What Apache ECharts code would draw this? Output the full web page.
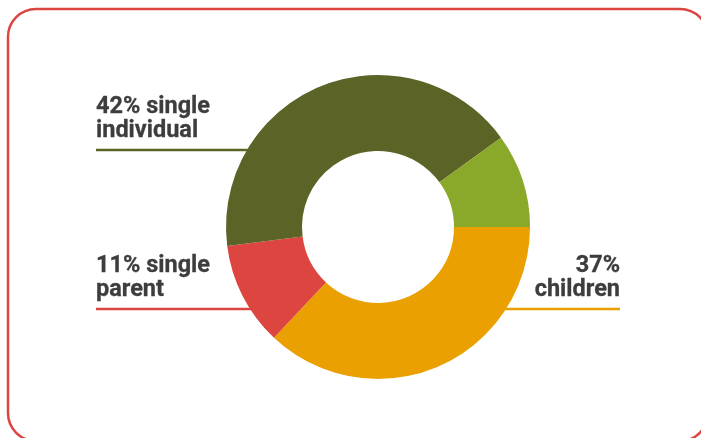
<!DOCTYPE html>
<html>
<head>
<meta charset="utf-8">
<script src="https://cdn.jsdelivr.net/npm/echarts@6/dist/echarts.min.js"></script>
<style>
  html, body { margin: 0; padding: 0; background: #ffffff; }
  #chart { width: 701px; height: 438px; }
</style>
</head>
<body>
<div id="chart"></div>
<script>
// Household composition shares (percent), drawn clockwise from 3 o'clock
const categories = ['children', 'single parent', 'single individual', 'other'];
const shares = [37, 11, 42, 10];
const labelTexts = ['37%\nchildren', '11% single\nparent', '42% single\nindividual', ''];
const sliceColors = ['#e9a000', '#dd4540', '#5b6426', '#8aa82a'];

// Pie geometry (pixels)
const CX = 378, CY = 227, R_IN = 76, R_OUT = 152;

// Where each label sits: its underline height and the text's outer edge
const labelSpots = [
  { lineY: 309, textX: 620, side: 'right' },
  { lineY: 309, textX: 96, side: 'left' },
  { lineY: 150, textX: 96, side: 'left' },
  null
];

function edgeX(y, side) {
  const dy = y - CY;
  const dx = Math.sqrt(Math.max(0, R_OUT * R_OUT - dy * dy));
  return side === 'left' ? CX - dx + 1 : CX + dx - 1;
}

const chart = echarts.init(document.getElementById('chart'), null, { renderer: 'canvas' });

const data = categories.map((name, i) => ({
  name: name,
  value: shares[i],
  itemStyle: { color: sliceColors[i] },
  label: { show: labelTexts[i] !== '', formatter: labelTexts[i] },
  labelLine: { show: labelTexts[i] !== '', lineStyle: { color: sliceColors[i], width: 2.5 } }
}));

chart.setOption({
  animation: false,
  backgroundColor: '#ffffff',
  graphic: [{
    type: 'rect',
    shape: { x: 8, y: 9, width: 700, height: 432, r: 28 },
    style: { fill: 'none', stroke: '#dd4540', lineWidth: 2.5 },
    silent: true
  }],
  series: [{
    type: 'pie',
    center: [CX, CY],
    radius: [R_IN, R_OUT],
    startAngle: 0,
    clockwise: true,
    avoidLabelOverlap: false,
    itemStyle: { borderWidth: 0 },
    label: {
      position: 'outside',
      fontFamily: 'Roboto',
      fontWeight: 'bold',
      fontSize: 23.5,
      lineHeight: 24,
      color: '#3d3d3d',
      textBorderColor: '#3d3d3d',
      textBorderWidth: 0.3
    },
    labelLine: { length: 10, length2: 10 },
    emphasis: { disabled: true },
    labelLayout: function (params) {
      const spot = labelSpots[params.dataIndex];
      if (!spot) return {};
      const ex = edgeX(spot.lineY, spot.side);
      return {
        x: spot.textX,
        y: spot.lineY - 7,
        align: spot.side === 'left' ? 'left' : 'right',
        verticalAlign: 'bottom',
        labelLinePoints: [[ex, spot.lineY], [ex, spot.lineY], [spot.textX, spot.lineY]]
      };
    },
    data: data
  }]
});
</script>
</body>
</html>
